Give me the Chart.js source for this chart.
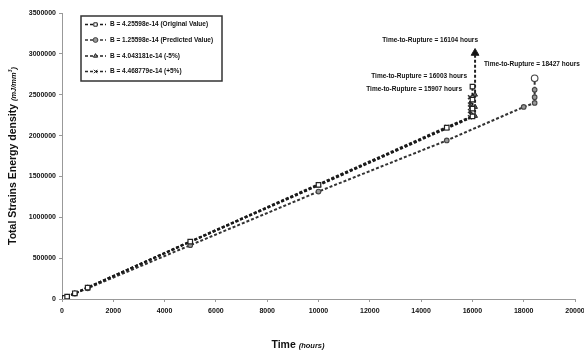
<!DOCTYPE html>
<html>
<head>
<meta charset="utf-8">
<script src="https://cdn.jsdelivr.net/npm/chart.js@4.4.0/dist/chart.umd.min.js"></script>
<style>
  html, body { margin: 0; padding: 0; background: #fff; }
  #wrap { width: 584px; height: 356px; }
</style>
</head>
<body>
<div id="wrap"><canvas id="c" width="584" height="356"></canvas></div>
<script>
// Series names
const seriesLabels = [
  'B = 4.25598e-14 (Original Value)',
  'B = 1.25598e-14 (Predicted Value)',
  'B = 4.043181e-14 (-5%)',
  'B = 4.468779e-14 (+5%)'
];

// Time (hours) and total strain energy density for each series
const timeOriginal   = [0, 20, 50, 100, 200, 500, 1000, 5000, 10000, 15000, 16003, 16003, 16003, 16003];
const energyOriginal = [0, 2800, 7000, 14000, 28000, 70000, 140000, 702000, 1397000, 2096000, 2235000, 2330000, 2440000, 2600000];

const timePredicted   = [0, 20, 50, 100, 200, 500, 1000, 5000, 10000, 15000, 18000, 18427, 18427, 18427, 18427];
const energyPredicted = [0, 2600, 6500, 13000, 26000, 66000, 131000, 658000, 1315000, 1940000, 2350000, 2400000, 2470000, 2560000, 2700000];

const timeMinus5   = [0, 20, 50, 100, 200, 500, 1000, 5000, 10000, 15000, 16104, 16104, 16104, 16104];
const energyMinus5 = [0, 2780, 6950, 13900, 27800, 69500, 139000, 698000, 1390000, 2088000, 2240000, 2350000, 2500000, 3010000];

const timePlus5   = [0, 20, 50, 100, 200, 500, 1000, 5000, 10000, 15000, 15907, 15907, 15907, 15907];
const energyPlus5 = [0, 2820, 7050, 14100, 28200, 70500, 141000, 705000, 1405000, 2105000, 2225000, 2300000, 2380000, 2470000];

// Axis ticks
const xTicks = [0, 2000, 4000, 6000, 8000, 10000, 12000, 14000, 16000, 18000, 20000];
const yTicks = [0, 500000, 1000000, 1500000, 2000000, 2500000, 3000000, 3500000];

// Rupture annotations: 16104, 18427, 16003, 15907 hours
const ruptureLabels = [
  'Time-to-Rupture = 16104 hours',
  'Time-to-Rupture = 18427 hours',
  'Time-to-Rupture = 16003 hours',
  'Time-to-Rupture = 15907 hours'
];

const FONT = '"Liberation Sans", Arial, sans-serif';

function pairs(xs, ys) { return xs.map((x, i) => ({ x: x, y: ys[i] })); }
function lastIs(n, a, b) { return ctx => (ctx.dataIndex === n - 1 ? a : b); }

const lineBase = { showLine: true, borderWidth: 2, borderDash: [3, 2], fill: false, tension: 0 };

const datasets = [
  Object.assign({}, lineBase, {
    label: seriesLabels[0],
    data: pairs(timeOriginal, energyOriginal),
    borderColor: '#1a1a1a',
    pointStyle: 'rect', pointRadius: 3.2, pointBorderWidth: 1.2,
    pointBackgroundColor: '#fff', pointBorderColor: '#222'
  }),
  Object.assign({}, lineBase, {
    label: seriesLabels[1],
    data: pairs(timePredicted, energyPredicted),
    borderColor: '#333',
    pointStyle: 'circle',
    pointRadius: lastIs(timePredicted.length, 3.3, 2.3),
    pointBorderWidth: 1.1,
    pointBackgroundColor: lastIs(timePredicted.length, '#fff', '#999'),
    pointBorderColor: '#444'
  }),
  Object.assign({}, lineBase, {
    label: seriesLabels[2],
    data: pairs(timeMinus5, energyMinus5),
    borderColor: '#222',
    pointStyle: 'triangle',
    pointRadius: lastIs(timeMinus5.length, 4.5, 2.8),
    pointBorderWidth: 1,
    pointBackgroundColor: lastIs(timeMinus5.length, '#111', '#666'),
    pointBorderColor: '#222'
  }),
  Object.assign({}, lineBase, {
    label: seriesLabels[3],
    data: pairs(timePlus5, energyPlus5),
    borderColor: '#2a2a2a',
    pointStyle: 'crossRot', pointRadius: 2.8, pointBorderWidth: 1.5,
    pointBackgroundColor: '#333', pointBorderColor: '#333'
  })
];

// Legend box, axis titles and rupture annotations
const decorations = {
  id: 'decorations',
  afterDraw(chart) {
    const ctx = chart.ctx;
    ctx.save();

    // legend
    const bx = 81, by = 16, bw = 141, bh = 65;
    ctx.fillStyle = '#fff';
    ctx.fillRect(bx, by, bw, bh);
    ctx.strokeStyle = '#333';
    ctx.lineWidth = 1.5;
    ctx.strokeRect(bx, by, bw, bh);
    const rows = [24.5, 40, 56, 71.5];
    chart.data.datasets.forEach((ds, i) => {
      const y = rows[i];
      ctx.save();
      ctx.strokeStyle = ds.borderColor;
      ctx.lineWidth = 1.5;
      ctx.setLineDash([3, 2]);
      ctx.beginPath();
      ctx.moveTo(85, y);
      ctx.lineTo(106, y);
      ctx.stroke();
      ctx.restore();
      ctx.save();
      ctx.fillStyle = typeof ds.pointBackgroundColor === 'function' ? '#999' : ds.pointBackgroundColor;
      ctx.strokeStyle = ds.pointBorderColor;
      ctx.lineWidth = 1;
      Chart.helpers.drawPoint(ctx, { pointStyle: ds.pointStyle, radius: 2.4, rotation: 0, borderWidth: 1 }, 95.5, y);
      ctx.restore();
      ctx.fillStyle = '#111';
      ctx.font = 'bold 6.5px ' + FONT;
      ctx.textAlign = 'left';
      ctx.textBaseline = 'middle';
      ctx.fillText(ds.label, 110, y);
    });

    // rupture annotations
    ctx.fillStyle = '#111';
    ctx.font = 'bold 6.5px ' + FONT;
    ctx.textBaseline = 'middle';
    ctx.textAlign = 'right';
    ctx.fillText(ruptureLabels[0], 478, 40);
    ctx.textAlign = 'left';
    ctx.fillText(ruptureLabels[1], 484, 64);
    ctx.textAlign = 'right';
    ctx.fillText(ruptureLabels[2], 467, 76);
    ctx.fillText(ruptureLabels[3], 462, 89);

    // x axis title
    drawTitle(ctx, 'Time ', '(hours)', null, 298, 345, 0);
    // y axis title
    drawTitle(ctx, 'Total Strains Energy density ', '(mJ/mm', '3', 13, 156, -Math.PI / 2);

    ctx.restore();
  }
};

function drawTitle(ctx, main, unit, sup, cx, cy, rot) {
  const mainFont = 'bold 10.5px ' + FONT;
  const unitFont = 'bold italic 7.5px ' + FONT;
  const supFont = 'bold italic 5px ' + FONT;
  ctx.save();
  ctx.translate(cx, cy);
  ctx.rotate(rot);
  ctx.font = mainFont; const w1 = ctx.measureText(main).width;
  ctx.font = unitFont; const w2 = ctx.measureText(unit).width; const w4 = ctx.measureText(')').width;
  let w3 = 0;
  if (sup) { ctx.font = supFont; w3 = ctx.measureText(sup).width; }
  const total = w1 + w2 + w3 + (sup ? w4 : 0);
  let x = -total / 2;
  ctx.fillStyle = '#111';
  ctx.textAlign = 'left';
  ctx.textBaseline = 'middle';
  ctx.font = mainFont; ctx.fillText(main, x, 0); x += w1;
  if (sup) {
    ctx.font = unitFont; ctx.fillText(unit, x, 0.5); x += w2;
    ctx.font = supFont; ctx.fillText(sup, x, -2.5); x += w3;
    ctx.font = unitFont; ctx.fillText(')', x, 0.5);
  } else {
    ctx.font = unitFont; ctx.fillText(unit, x, 0.5);
  }
  ctx.restore();
}

new Chart(document.getElementById('c'), {
  type: 'scatter',
  data: { datasets: datasets },
  options: {
    responsive: false,
    animation: false,
    devicePixelRatio: 1,
    layout: { padding: { left: 0, top: 13, right: 9, bottom: 0 } },
    plugins: { legend: { display: false }, tooltip: { enabled: false } },
    scales: {
      x: {
        type: 'linear', min: 0, max: 20000,
        afterBuildTicks: s => { s.ticks = xTicks.map(v => ({ value: v })); },
        afterFit: s => { s.height = 57; s.paddingLeft = 0; s.paddingRight = 0; },
        ticks: { color: '#111', font: { family: FONT, size: 7, weight: 'bold' }, padding: 5, maxRotation: 0, autoSkip: false,
                 callback: v => String(v) },
        grid: { drawOnChartArea: false, drawTicks: true, tickLength: 3, color: '#999' },
        border: { display: true, color: '#999', width: 1 }
      },
      y: {
        type: 'linear', min: 0, max: 3500000,
        afterBuildTicks: s => { s.ticks = yTicks.map(v => ({ value: v })); },
        afterFit: s => { s.width = 62; s.paddingTop = 0; s.paddingBottom = 0; },
        ticks: { color: '#111', font: { family: FONT, size: 7, weight: 'bold' }, padding: 3, autoSkip: false,
                 callback: v => String(v) },
        grid: { drawOnChartArea: false, drawTicks: true, tickLength: 3, color: '#999' },
        border: { display: true, color: '#999', width: 1 }
      }
    }
  },
  plugins: [decorations]
});
</script>
</body>
</html>
